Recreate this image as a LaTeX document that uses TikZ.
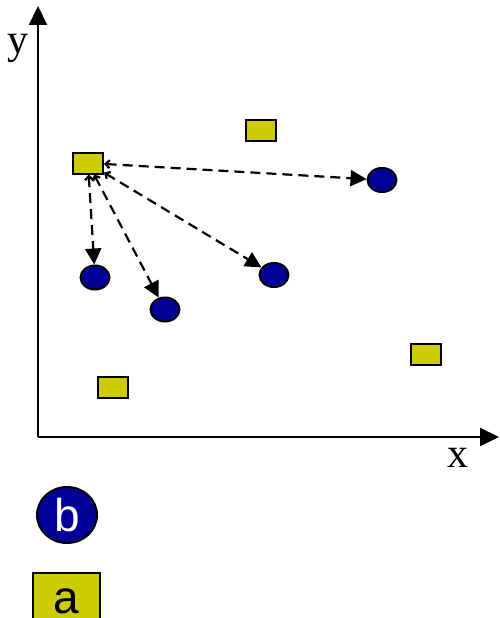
\documentclass[tikz,border=0pt]{standalone}
\usepackage{fontspec}
\setmainfont{Liberation Serif}
\newfontfamily\arialfont{Liberation Sans}
\usetikzlibrary{arrows.meta, shapes.geometric}
\definecolor{dotyellow}{HTML}{CCCC00}
\definecolor{dotblue}{HTML}{000099}

\begin{document}
\begin{tikzpicture}[
    x=1pt, y=-1pt,
    pointa/.style={rectangle, draw, line width=2pt, fill=dotyellow, minimum width=30pt, minimum height=21pt, inner sep=0pt},
    pointb/.style={ellipse, draw, line width=2pt, fill=dotblue, minimum width=29pt, minimum height=24pt, inner sep=0pt},
    axisline/.style={-{Triangle[length=19pt, width=18pt]}, line width=2.2pt},
    link/.style={{Straight Barb[length=4pt, width=8pt]}-{Triangle[length=16pt, width=16pt]}, dash pattern=on 10pt off 6pt, line width=2.2pt},
    axislabel/.style={font=\fontsize{42}{42}\selectfont, inner sep=0pt}
]
\clip (0,0) rectangle (499,618);

% Axes
\coordinate (origin) at (38,437);
\coordinate (ytop) at (38,6);
\coordinate (xend) at (499,437);
\draw[axisline] (origin) -- (ytop);
\draw[axisline] (origin) -- (xend);
\node[axislabel] (ylab) at (18,48) {y};
\node[axislabel] (xlab) at (458,458) {x};

% Points of type a
\node[pointa] (src) at (88,163) {};
\node[pointa] (a1) at (260.5,130.5) {};
\node[pointa] (a2) at (426,354) {};
\node[pointa] (a3) at (113,387.5) {};

% Points of type b
\node[pointb] (b1) at (382,180) {};
\node[pointb] (b2) at (95,277.5) {};
\node[pointb] (b3) at (165,309.5) {};
\node[pointb] (b4) at (274,275) {};

% Links from the source point
\draw[link] (src) -- (b1);
\draw[link] (src) -- (b2);
\draw[link] (src) -- (b3);
\draw[link] (src) -- (b4);

% Legend
\node[pointb, minimum width=60pt, minimum height=56pt, text=white, font=\arialfont\fontsize{46}{46}\selectfont] (legb) at (67,515) {b};
\node[pointa, minimum width=67pt, minimum height=56pt, font=\arialfont\fontsize{46}{46}\selectfont] (lega) at (66.5,601) {a};

\end{tikzpicture}
\end{document}
